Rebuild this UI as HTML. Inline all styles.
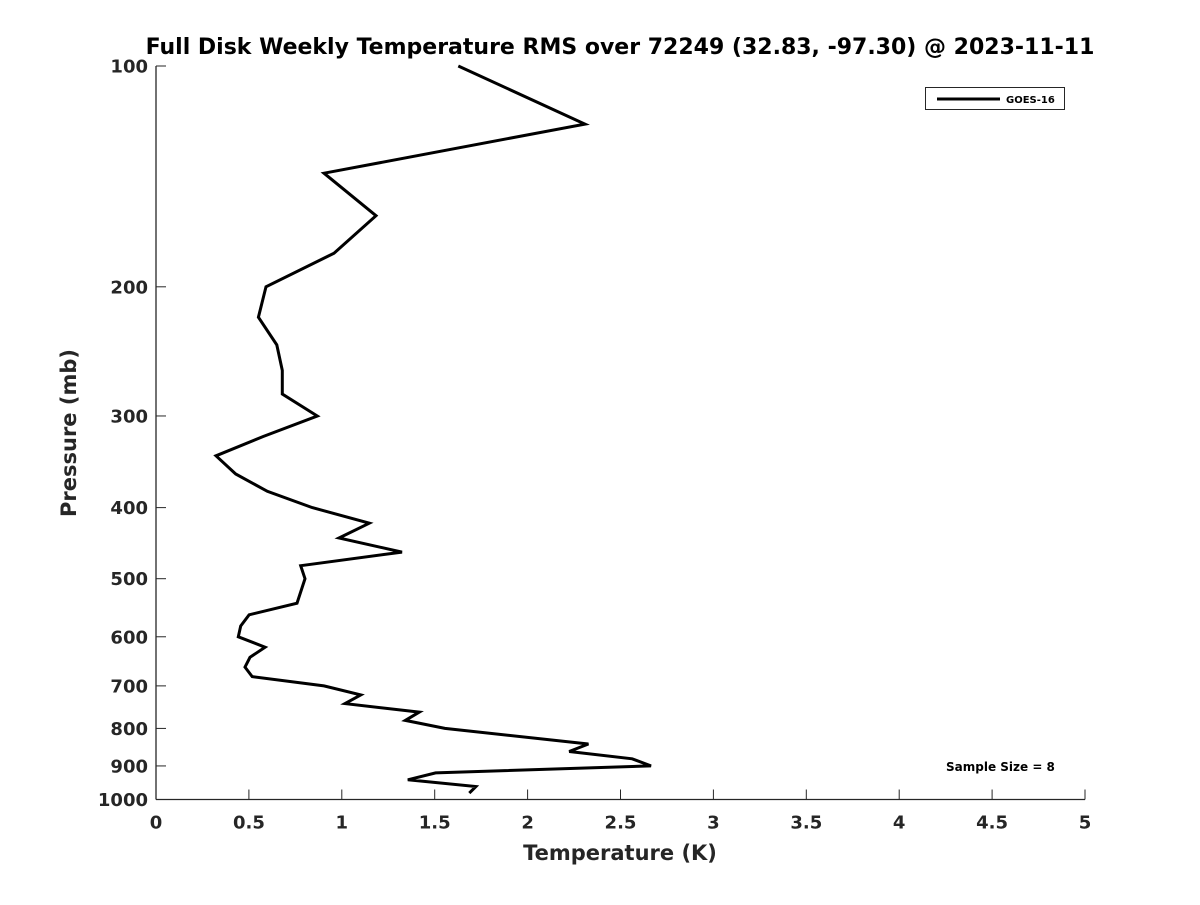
<!DOCTYPE html>
<html><head><meta charset="utf-8"><style>
html,body{margin:0;padding:0;background:#fff;}
svg text{font-family:"DejaVu Sans","Liberation Sans",sans-serif;font-weight:bold;fill:#262626;}
</style></head><body>
<svg id="chart" width="1200" height="900" viewBox="0 0 1200 900" xmlns="http://www.w3.org/2000/svg">
<rect width="1200" height="900" fill="#fff"/>
<text x="620" y="54" text-anchor="middle" font-size="22" style="fill:#000">Full Disk Weekly Temperature RMS over 72249 (32.83, -97.30) @ 2023-11-11</text>
<g id="axes"></g>
<g id="series"></g>
<text x="620" y="860" text-anchor="middle" font-size="21">Temperature (K)</text>
<text transform="translate(76,433) rotate(-90)" text-anchor="middle" font-size="21">Pressure (mb)</text>
<g>
<rect x="925.5" y="87.5" width="139" height="22" fill="#fff" stroke="#262626" stroke-width="1"/>
<line x1="937" y1="99" x2="1000" y2="99" stroke="#000" stroke-width="3"/>
<text x="1006" y="103" font-size="10" style="fill:#000">GOES-16</text>
</g>
<text x="946" y="771" font-size="12" style="fill:#000">Sample Size = 8</text>
</svg>
<script>
const pressures = [100,120,140,160,180,200,220,240,260,280,300,320,340,360,380,400,420,440,460,480,500,540,560,580,600,620,640,660,680,700,720,740,760,780,800,840,860,880,900,920,940,960,980];
const rmsValues = [1.627,2.309,0.904,1.184,0.958,0.592,0.551,0.650,0.680,0.680,0.868,0.577,0.323,0.429,0.599,0.841,1.148,0.985,1.324,0.779,0.802,0.759,0.501,0.456,0.443,0.587,0.506,0.479,0.518,0.904,1.102,1.017,1.417,1.342,1.555,2.327,2.224,2.563,2.664,1.505,1.355,1.722,1.686];
const xTicks = [0,0.5,1,1.5,2,2.5,3,3.5,4,4.5,5];
const xTickLabels = ["0","0.5","1","1.5","2","2.5","3","3.5","4","4.5","5"];
const yTicks = [100,200,300,400,500,600,700,800,900,1000];
const yTickLabels = ["100","200","300","400","500","600","700","800","900","1000"];

const NS = "http://www.w3.org/2000/svg";
const X0 = 156, X1 = 1085, Y0 = 66, Y1 = 799.5;
function xScale(t){ return X0 + (t - 0) / (5 - 0) * (X1 - X0); }
function yScale(p){ return Y0 + (Math.log10(p) - 2) / (3 - 2) * (Y1 - Y0); }
function mk(tag, attrs){ const e = document.createElementNS(NS, tag); for (const k in attrs) e.setAttribute(k, attrs[k]); return e; }

const axes = document.getElementById('axes');
const yAxis = mk('line', {x1: X0, y1: Y0, x2: X0, y2: Y1, stroke: '#262626', 'stroke-width': 1.3});


axes.appendChild(yAxis);
const xAxis = mk('line', {x1: X0, y1: Y1, x2: X1, y2: Y1, stroke: '#262626', 'stroke-width': 1.3});


axes.appendChild(xAxis);

xTicks.forEach((t, i) => {
  const x = xScale(t);
  const tk = mk('line', {x1: x, y1: Y1, x2: x, y2: Y1 - 10, stroke: '#262626', 'stroke-width': 1});
  
  
  axes.appendChild(tk);
  const lb = mk('text', {x: x, y: Y1 + 29, 'text-anchor': 'middle', 'font-size': 18});
  
  
  lb.textContent = xTickLabels[i];
  axes.appendChild(lb);
});
yTicks.forEach((p, i) => {
  const y = yScale(p);
  const tk = mk('line', {x1: X0, y1: y, x2: X0 + 10, y2: y, stroke: '#262626', 'stroke-width': 1});
  
  
  axes.appendChild(tk);
  const lb = mk('text', {x: X0 - 8, y: y + 6.5, 'text-anchor': 'end', 'font-size': 18});
  
  
  lb.textContent = yTickLabels[i];
  axes.appendChild(lb);
});

const pts = pressures.map((p, i) => xScale(rmsValues[i]).toFixed(1) + ',' + yScale(p).toFixed(1)).join(' ');
const line = mk('polyline', {points: pts, fill: 'none', stroke: '#000', 'stroke-width': 3, 'stroke-linejoin': 'miter'});


document.getElementById('series').appendChild(line);
</script>
</body></html>
